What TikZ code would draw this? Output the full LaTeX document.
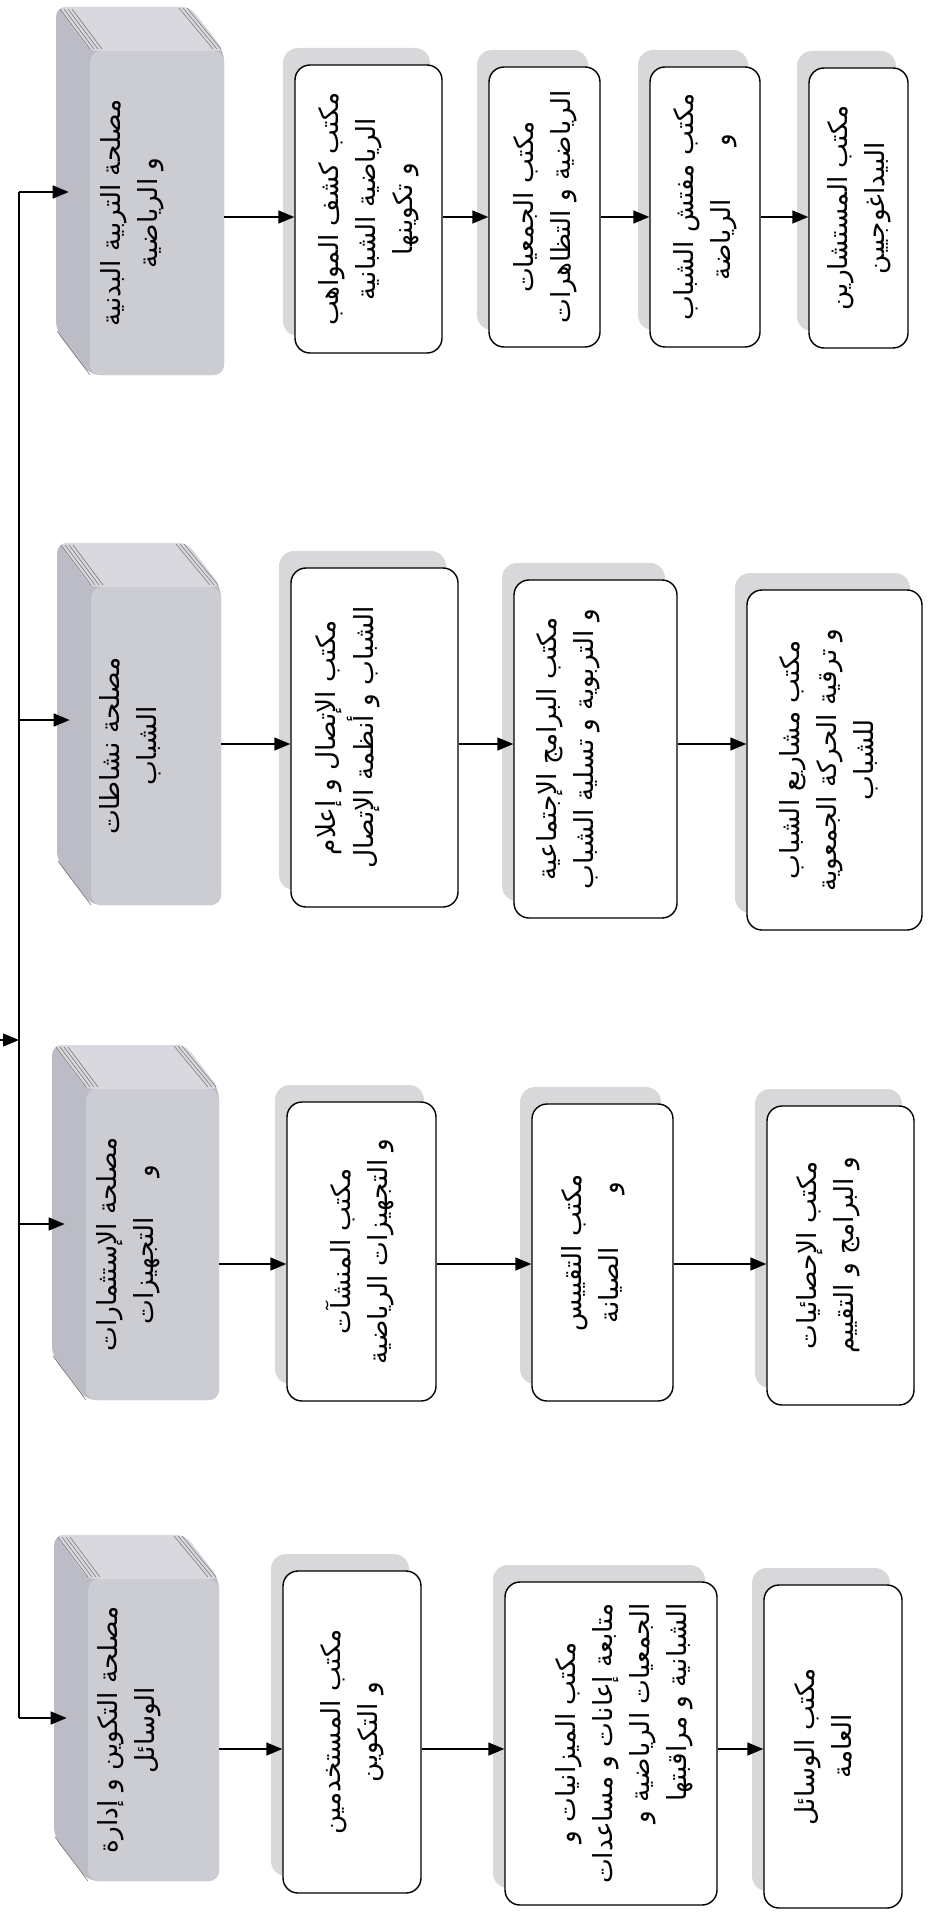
\documentclass[tikz,border=0pt]{standalone}
\usepackage{fontspec}
\usepackage{graphicx}
\usetikzlibrary{arrows.meta,shadows}
\newfontfamily\arabicfont[Script=Arabic]{DejaVu Sans}
\TeXXeTstate=1
\definecolor{hface}{RGB}{204,204,211}
\definecolor{hside}{RGB}{188,188,198}
\definecolor{htop}{RGB}{216,216,222}
\definecolor{boxshade}{RGB}{216,216,219}
% one right-to-left line
\newcommand\rl[1]{\beginR #1\endR}
% stacked Arabic lines, turned a quarter turn
\newcommand\vlines[2][c]{\rotatebox{90}{\arabicfont\fontsize{15}{21}\selectfont\begin{tabular}{@{}#1@{}}#2\end{tabular}}}
\newcommand\hlines[1]{\rotatebox{90}{\arabicfont\fontsize{15}{21}\selectfont\begin{tabular}{@{}c@{}}#1\end{tabular}}}
\tikzset{
  conn/.style={draw=black, line width=0.8pt},
  arr/.style={conn, -{Triangle[length=0.32cm,width=0.26cm]}},
  office/.style={draw=black, line width=0.8pt, fill=white, rounded corners=0.3cm,
    inner sep=0pt,
    general shadow={fill=boxshade, shadow xshift=-0.24cm, shadow yshift=0.34cm}},
  hfacestyle/.style={fill=hface, rounded corners=0.22cm, inner sep=0pt},
  pageline/.style={draw=black!50, line width=0.35pt},
}
% office box: name, x1, y1, x2, y2, text
\newcommand\officenode[6]{%
  \node[office, minimum width={(#4-#2)*0.02cm}, minimum height={(#5-#3)*0.02cm}]
    (#1) at ({(#2+#4)/2},{(#3+#5)/2}) {#6};}
% service block with depth: name, xl, yt, xr, yb, text
\newcommand\servicenode[6]{%
  \fill[hside, rounded corners=0.2cm] (#2,#3) -- (#4-34,#3) -- (#4,#3+44) -- (#4,#5)
    -- (#2+34,#5) -- (#2,#5-44) -- cycle;
  \fill[htop, rounded corners=0.15cm] (#2+2,#3) -- (#4-34,#3) -- (#4,#3+44) -- (#2+34,#3+44) -- cycle;
  \foreach \k in {4,8,12,16} {\draw[pageline] (#2+\k,#3+2) -- (#2+30+\k,#3+42);}
  \foreach \k in {3,7,11} {\draw[pageline] (#4-34-\k,#3+1) -- (#4-\k,#3+42);}
  \draw[pageline] (#2+1,#5-44) -- (#2+34,#5);
  \node[hfacestyle, minimum width={(#4-#2-34)*0.02cm}, minimum height={(#5-#3-44)*0.02cm}]
    (#1) at ({(#2+34+#4)/2},{(#3+44+#5)/2}) {#6\hspace*{1.0cm}};}

\begin{document}
\begin{tikzpicture}[x=0.02cm, y=-0.02cm]
\useasboundingbox (0,0) rectangle (938,1919);

% services
\servicenode{H1}{56}{7}{224}{375}{\hlines{\rl{مصلحة التربية البدنية}\\\rl{و الرياضية}}}
\servicenode{H2}{57}{543}{221}{905}{\hlines{\rl{مصلحة نشاطات}\\\rl{الشباب}}}
\servicenode{H3}{52}{1045}{219}{1400}{\hlines{\rl{مصلحة الإستثمارات}\\\rl{و\hspace{1.5em}التجهيزات}}}
\servicenode{H4}{54}{1535}{219}{1881}{\hlines{\rl{مصلحة التكوين و إدارة}\\\rl{الوسائل}}}

% offices
\officenode{A1}{295}{65}{442}{353}{\vlines{\rl{مكتب كشف المواهب}\\\rl{الرياضية الشبانية}\\\rl{و تكوينها}}}
\officenode{A2}{489}{67}{600}{347}{\vlines{\rl{مكتب الجمعيات}\\\rl{الرياضية و التظاهرات}}}
\officenode{A3}{650}{67}{760}{347}{\vlines{\rl{مكتب مفتش الشباب}\\\rl{و\hspace{2em}الرياضة}}}
\officenode{A4}{809}{68}{908}{348}{\vlines{\rl{مكتب المستشارين}\\\rl{البيداغوجيين}}}

\officenode{B1}{291}{568}{458}{907}{\vlines{\rl{مكتب الإتصال و إعلام}\\\rl{الشباب و أنظمة الإتصال}}\hspace*{1.1cm}}
\officenode{B2}{514}{580}{677}{918}{\vlines{\rl{مكتب البرامج الإجتماعية}\\\rl{و التربوية و تسلية الشباب}}\hspace*{1.1cm}}
\officenode{B3}{747}{590}{922}{930}{\vlines{\rl{مكتب مشاريع الشباب}\\\rl{و ترقية الحركة الجمعوية}\\\rl{للشباب}}\hspace*{0.2cm}}

\officenode{C1}{287}{1102}{436}{1401}{\vlines{\rl{مكتب المنشآت}\\\rl{و التجهيزات الرياضية}}}
\officenode{C2}{532}{1104}{673}{1401}{\vlines{\rl{مكتب التقييس}\\\rl{و\hspace{2em}الصيانة}}\hspace*{0.4cm}}
\officenode{C3}{767}{1106}{914}{1405}{\vlines{\rl{مكتب الإحصائيات}\\\rl{و البرامج و التقييم}}\hspace*{0.5cm}}

\officenode{D1}{283}{1571}{421}{1893}{\vlines{\rl{مكتب المستخدمين}\\\rl{و التكوين}}}
\officenode{D2}{505}{1582}{717}{1905}{\hspace*{0.5cm}\vlines[r]{\rl{\hspace*{1.5em}مكتب الميزانيات و}\\\rl{متابعة إعانات و مساعدات}\\\rl{الجمعيات الرياضية و}\\\rl{الشبانية و مراقبتها}}}
\officenode{D3}{764}{1585}{902}{1908}{\vlines{\rl{مكتب الوسائل}\\\rl{العامة}}\hspace*{0.3cm}}

% distribution bus
\coordinate (b1) at (19,192);
\coordinate (b2) at (19,720);
\coordinate (b3) at (19,1224);
\coordinate (b4) at (19,1718);
\coordinate (inL) at (0,1040);
\coordinate (inR) at (19,1040);
\draw[conn] (b1) -- (b4);
\draw[arr] (inL) -- (inR);
\foreach \b/\h in {b1/H1,b2/H2,b3/H3,b4/H4}
  \draw[arr, shorten >=0.42cm] (\b) -- (\h.west |- \b);

% rows of offices
\coordinate (rA) at (0,217);
\coordinate (rB) at (0,744);
\coordinate (rC) at (0,1264);
\coordinate (rD) at (0,1749);
\foreach \s/\t/\r in {H1/A1/rA,A1/A2/rA,A2/A3/rA,A3/A4/rA,
                      H2/B1/rB,B1/B2/rB,B2/B3/rB,
                      H3/C1/rC,C1/C2/rC,C2/C3/rC,
                      H4/D1/rD,D1/D2/rD,D2/D3/rD}
  \draw[arr] (\s.east |- \r) -- (\t.west |- \r);
\end{tikzpicture}
\end{document}
